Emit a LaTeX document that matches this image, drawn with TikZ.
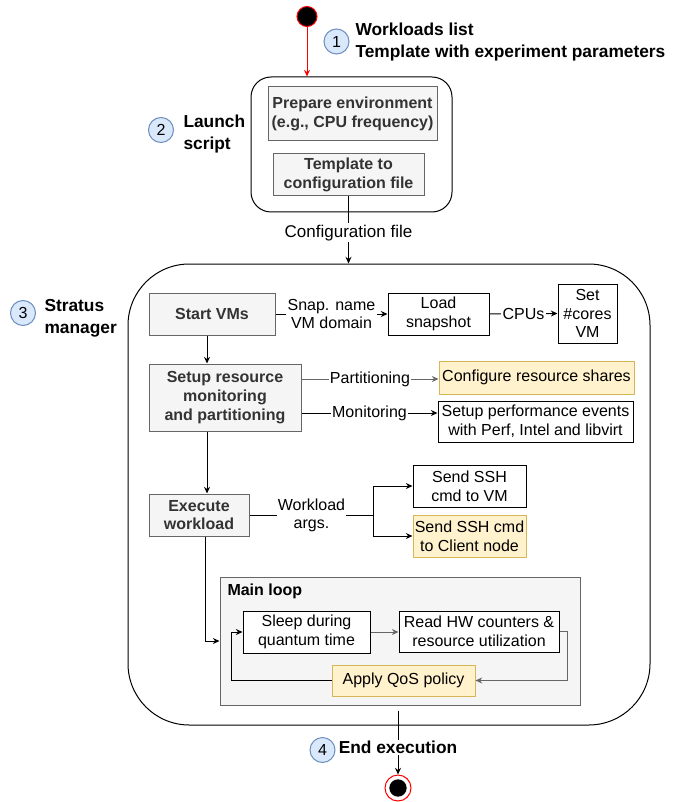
\documentclass[tikz,border=0pt]{standalone}
\usepackage{fontspec}
\setmainfont{Liberation Sans}
\usetikzlibrary{arrows.meta, calc}
\definecolor{boxgray}{HTML}{F5F5F5}
\definecolor{edgegray}{HTML}{666666}
\definecolor{textgray}{HTML}{333333}
\definecolor{noteyellow}{HTML}{FFF2CC}
\definecolor{noteedge}{HTML}{D6B656}
\definecolor{stepblue}{HTML}{DAE8FC}
\definecolor{stepedge}{HTML}{6C8EBF}
\definecolor{startred}{HTML}{FF0000}
\newdimen\pxl \pxl=0.75pt
\tikzset{
    wh/.style 2 args={minimum width=#1*\pxl, minimum height=#2*\pxl},
    box/.style={rectangle, draw=black, fill=white, inner sep=1pt, align=center, font=\fontsize{12}{14}\selectfont},
    graybox/.style={box, draw=edgegray, fill=boxgray, text=textgray, font=\fontsize{12}{14}\selectfont\bfseries},
    yellowbox/.style={box, draw=noteedge, fill=noteyellow},
    container/.style={rectangle, draw=black, fill=white},
    loopbox/.style={rectangle, draw=edgegray, fill=boxgray},
    numcircle/.style={circle, draw=stepedge, fill=stepblue, minimum size=25*\pxl, inner sep=0pt, font=\fontsize{12}{14}\selectfont},
    steplbl/.style={anchor=west, align=left, inner sep=0pt, font=\fontsize{13}{16.5}\selectfont\bfseries},
    lbl/.style={fill=white, inner sep=1pt, align=center, font=\fontsize{12}{13.5}\selectfont},
    startstate/.style={circle, draw=startred, fill=black, minimum size=20*\pxl, inner sep=0pt},
    endstate/.style={circle, draw=startred, fill=white, minimum size=26*\pxl, inner sep=0pt,
        path picture={\fill[black] (path picture bounding box.center) circle (6.5pt);}},
    arrow/.style={-{Stealth[length=5pt, width=4.5pt]}, draw=black},
    grayarrow/.style={arrow, draw=edgegray},
    redarrow/.style={arrow, draw=startred}
}
\begin{document}
\begin{tikzpicture}[x=0.75pt, y=-0.75pt, line width=0.75pt]
    \useasboundingbox (0,0) rectangle (692,802);

    \node[container, wh={201}{135}, rounded corners=15pt] (launch) at (351.5,144.5) {};
    \node[container, wh={522}{461}, rounded corners=46pt] (stratus) at (389,494.5) {};
    \node[loopbox, wh={360}{128}] (mainloop) at (400,641) {};
    \node[anchor=west, inner sep=0pt, font=\fontsize{12}{14}\selectfont\bfseries] (looptitle) at (227,591) {Main loop};

    \node[startstate] (start) at (307,16.5) {};
    \node[numcircle] (one) at (336.5,41.5) {1};
    \node[steplbl] (inputs) at (355,42) {Workloads list\\Template with experiment parameters};
    \node[numcircle] (two) at (161,130) {2};
    \node[steplbl] (launchlbl) at (183,134) {Launch\\script};
    \node[numcircle] (three) at (23,313) {3};
    \node[steplbl] (stratuslbl) at (44,318.5) {Stratus\\manager};
    \node[numcircle] (four) at (322.5,750) {4};
    \node[endstate] (finish) at (398,788) {};

    \node[graybox, wh={169}{54}] (prep) at (352.5,114) {Prepare environment\\(e.g., CPU frequency)};
    \node[graybox, wh={151}{42}] (tmpl) at (348.5,175) {Template to\\configuration file};

    \node[graybox, wh={126}{42}] (startvm) at (212,314) {Start VMs};
    \node[box, wh={101}{42}] (loadsnap) at (438.5,314) {Load\\snapshot};
    \node[box, wh={59}{59}] (setcores) at (587.5,313.5) {Set\\\#cores\\VM};
    \node[graybox, wh={152}{67}] (setupres) at (225,397.5) {Setup resource\\monitoring\\and partitioning};
    \node[yellowbox, wh={195}{33}] (confshares) at (536.5,377.5) {Configure resource shares};
    \node[box, wh={195}{41}] (perfev) at (535.5,421.5) {Setup performance events\\with Perf, Intel and libvirt};
    \node[graybox, wh={100}{42}] (execwl) at (199,515) {Execute\\workload};
    \node[box, wh={113}{42}] (sendvm) at (469.5,486) {Send SSH\\cmd to VM};
    \node[yellowbox, wh={113}{42}] (sendcl) at (469.5,536) {Send SSH cmd\\to Client node};

    \node[box, wh={127}{42}] (sleep) at (306.5,632) {Sleep during\\quantum time};
    \node[box, wh={160}{41}] (readhw) at (479,631.5) {Read HW counters \&\\resource utilization};
    \node[yellowbox, wh={143}{31}] (applyqos) at (403.5,680.5) {Apply QoS policy};

    \draw[redarrow] (start.south) -- (start.south |- launch.north);
    \draw[arrow] (tmpl.south) -- node[lbl, pos=0.54, font=\fontsize{12.75}{14}\selectfont] {Configuration file} (tmpl.south |- stratus.north);

    \draw[arrow] (startvm.east) -- node[lbl] {Snap. name\\VM domain} (loadsnap.west);
    \draw[arrow] (loadsnap.east) -- node[lbl] {CPUs} (setcores.west);
    \draw[arrow] ($(startvm.south)+(-5,0)$) coordinate (sv) -- (sv |- setupres.north);

    \coordinate (part) at ($(setupres.east)+(0,-18.5)$);
    \coordinate (mon) at ($(setupres.east)+(0,15.5)$);
    \draw[grayarrow] (part) -- node[lbl] {Partitioning} (confshares.west |- part);
    \draw[arrow] (mon) -- node[lbl] {Monitoring} (perfev.west |- mon);
    \draw[arrow] ($(setupres.south)+(-18,0)$) coordinate (se) -- (se |- execwl.north);

    \coordinate (fork) at ($(execwl.east)+(124,0)$);
    \draw (execwl.east) -- node[lbl] {Workload\\args.} (fork);
    \draw[arrow] (fork) |- (sendvm.west);
    \draw[arrow] (fork) |- (sendcl.west);
    \draw[arrow] ($(execwl.south)+(6,0)$) |- (mainloop.west);

    \draw[grayarrow] (sleep.east) -- (readhw.west |- sleep.east);
    \draw[grayarrow] (readhw.east) -- ++(8,0) |- (applyqos.east);
    \draw[arrow] (applyqos.west) -- ++(-100,0) |- (sleep.west);

    \coordinate (endsrc) at ($(stratus.south)+(9,-15)$);
    \draw[arrow] (endsrc) -- node[lbl, pos=0.58, font=\fontsize{13}{16}\selectfont\bfseries] {End execution} (endsrc |- finish.north);
\end{tikzpicture}
\end{document}
